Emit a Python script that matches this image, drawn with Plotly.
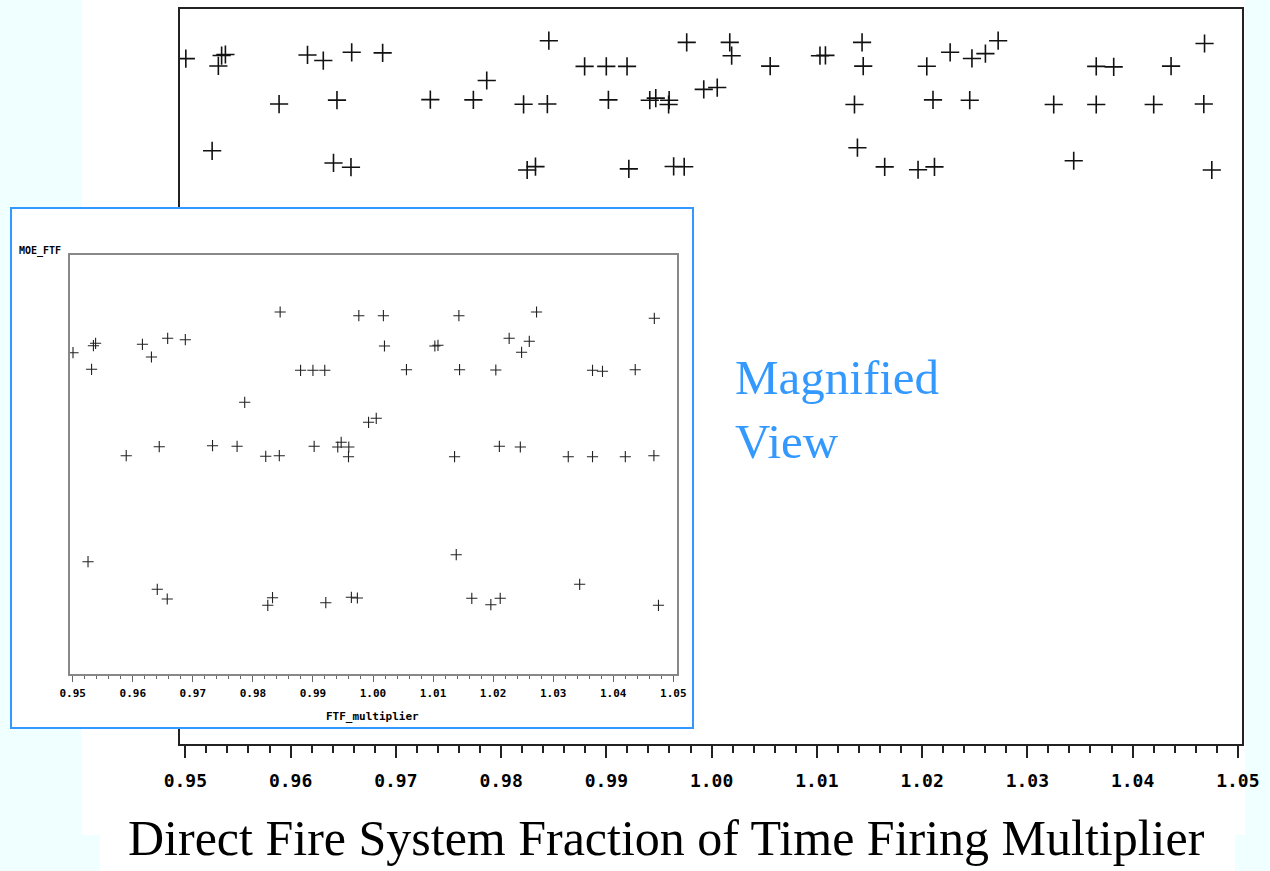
import plotly.graph_objects as go

# FTF_multiplier values (x) and MOE_FTF values (y)
ftf_multiplier = [
    0.95005, 0.95314, 0.95345, 0.95381, 0.96161, 0.96311, 0.96581, 0.96875,
    0.98454, 0.98794, 0.99000, 0.99197, 0.99764, 1.00173, 1.00191, 1.00557,
    1.01030, 1.01082, 1.01430, 1.01441, 1.02045, 1.02267, 1.02474, 1.02602,
    1.02723, 1.03655, 1.03821, 1.04366, 1.04684,
    0.95891, 0.96441, 0.97864, 0.97328, 0.97737, 0.98214, 0.98440, 0.99020,
    0.99413, 0.99470, 0.99597, 0.99592, 0.99926, 1.00054, 1.01358, 1.02104,
    1.02453, 1.03251, 1.03655, 1.04201, 1.04677,
    0.95255, 0.96408, 0.96574, 0.98248, 0.98327, 0.99214, 0.99640, 0.99740,
    1.01386, 1.01645, 1.01962, 1.02118, 1.03441, 1.04753,
]
moe_ftf = [
    0.57668, 0.57272, 0.57835, 0.57893, 0.57869, 0.57566, 0.58012, 0.57978,
    0.58640, 0.57248, 0.57248, 0.57248, 0.58551, 0.58551, 0.57828, 0.57263,
    0.57828, 0.57845, 0.58551, 0.57263, 0.57255, 0.58012, 0.57678, 0.57940,
    0.58640, 0.57248, 0.57224, 0.57263, 0.58489,
    0.55210, 0.55425, 0.56484, 0.55449, 0.55434, 0.55196, 0.55210, 0.55434,
    0.55418, 0.55530, 0.55418, 0.55186, 0.56007, 0.56103, 0.55186, 0.55434,
    0.55418, 0.55186, 0.55186, 0.55186, 0.55210,
    0.52680, 0.52021, 0.51790, 0.51640, 0.51821, 0.51702, 0.51831, 0.51814,
    0.52847, 0.51807, 0.51654, 0.51807, 0.52141, 0.51640,
]

title_text = "Direct Fire System Fraction of Time Firing Multiplier"
inset_note = "Magnified<br>View"
inset_ylabel = "MOE_FTF"
inset_xlabel = "FTF_multiplier"

W, H = 1270, 871


def px(v):
    return v / W


def py(v):
    return 1 - v / H


fig = go.Figure()

# main scatter
fig.add_trace(go.Scatter(
    x=ftf_multiplier, y=moe_ftf, mode="markers", xaxis="x", yaxis="y",
    marker=dict(symbol="cross-thin", size=13, line=dict(width=1.6, color="#111")),
    hoverinfo="skip", showlegend=False))

# inset frame (empty subplot acting as white box with blue border)
fig.add_trace(go.Scatter(x=[], y=[], xaxis="x2", yaxis="y2", showlegend=False))

# inset scatter
fig.add_trace(go.Scatter(
    x=ftf_multiplier, y=moe_ftf, mode="markers", xaxis="x3", yaxis="y3",
    marker=dict(symbol="cross-thin", size=8, line=dict(width=1.1, color="#222")),
    hoverinfo="skip", showlegend=False))

mono_bold = "DejaVu Sans Mono"

fig.update_layout(
    width=W, height=H, autosize=False,
    margin=dict(l=0, r=0, t=0, b=0, autoexpand=False),
    paper_bgcolor="#f0ffff", plot_bgcolor="white",
    xaxis=dict(
        domain=[px(180), px(1242)], range=[0.949496, 1.050399],
        showline=True, mirror=True, linecolor="#222", linewidth=2,
        showgrid=False, zeroline=False, automargin=False,
        ticks="outside", ticklen=12, tickwidth=2, tickcolor="#222",
        tick0=0.95, dtick=0.01, tickformat=".2f",
        tickfont=dict(family=mono_bold, size=18, color="black", weight="bold"),
        ticklabelstandoff=7,
        minor=dict(dtick=0.002, ticks="outside", ticklen=7, tickwidth=2, tickcolor="#222"),
        anchor="y"),
    yaxis=dict(
        domain=[py(744), py(9)], range=[0.20562, 0.60356],
        showline=True, mirror=True, linecolor="#222", linewidth=2,
        showgrid=False, zeroline=False, showticklabels=False, ticks="",
        automargin=False, anchor="x"),
    xaxis2=dict(
        domain=[px(12), px(692)], range=[0, 1],
        showline=True, mirror=True, linecolor="#3399ff", linewidth=2,
        showgrid=False, zeroline=False, showticklabels=False, ticks="",
        automargin=False, anchor="y2"),
    yaxis2=dict(
        domain=[py(727), py(209)], range=[0, 1],
        showline=True, mirror=True, linecolor="#3399ff", linewidth=2,
        showgrid=False, zeroline=False, showticklabels=False, ticks="",
        automargin=False, anchor="x2"),
    xaxis3=dict(
        domain=[px(70), px(677)], range=[0.94955, 1.050616],
        showline=True, mirror=True, linecolor="#888", linewidth=1.5,
        showgrid=False, zeroline=False, automargin=False,
        ticks="outside", ticklen=6, tickwidth=1.2, tickcolor="#666",
        tick0=0.95, dtick=0.01, tickformat=".2f",
        tickfont=dict(family=mono_bold, size=11, color="black", weight="bold"),
        ticklabelstandoff=2,
        minor=dict(dtick=0.002, ticks="outside", ticklen=3.5, tickwidth=1.2, tickcolor="#666"),
        anchor="y3"),
    yaxis3=dict(
        domain=[py(674), py(255)], range=[0.5, 0.6],
        showline=True, mirror=True, linecolor="#888", linewidth=1.5,
        showgrid=False, zeroline=False, showticklabels=False, ticks="",
        automargin=False, anchor="x3"),
    shapes=[
        dict(type="rect", xref="paper", yref="paper", layer="below",
             x0=px(82), x1=px(1245), y0=py(835), y1=py(0),
             fillcolor="white", line=dict(width=0)),
        dict(type="rect", xref="paper", yref="paper", layer="below",
             x0=px(100), x1=px(1235), y0=py(871), y1=py(835),
             fillcolor="white", line=dict(width=0)),
    ],
    annotations=[
        dict(text=title_text, xref="paper", yref="paper", x=px(666), y=py(838),
             xanchor="center", yanchor="middle", showarrow=False,
             font=dict(family="Liberation Serif", size=50, color="black")),
        dict(text=inset_note, xref="paper", yref="paper", x=px(733), y=py(410),
             xanchor="left", yanchor="middle", align="left", showarrow=False,
             font=dict(family="Liberation Serif", size=49, color="#3399ff")),
        dict(text=inset_ylabel, xref="paper", yref="paper", x=px(17), y=py(251),
             xanchor="left", yanchor="middle", showarrow=False,
             font=dict(family=mono_bold, size=10, color="black", weight="bold")),
        dict(text=inset_xlabel, xref="paper", yref="paper", x=px(372), y=py(716),
             xanchor="center", yanchor="middle", showarrow=False,
             font=dict(family=mono_bold, size=11, color="black", weight="bold")),
    ],
)

fig.write_html(
    "out.html",
    config={"displayModeBar": False},
    post_script="document.body.style.margin='0';document.body.style.overflow='hidden';",
)
